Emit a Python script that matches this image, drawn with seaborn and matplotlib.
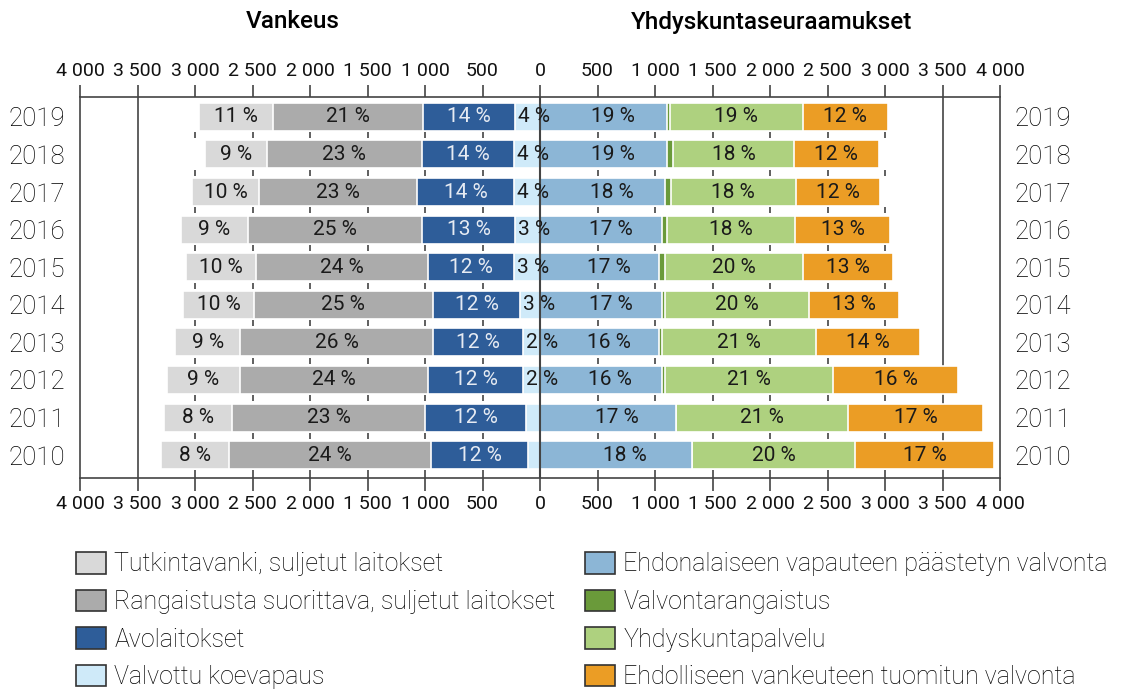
import numpy as np
import matplotlib
matplotlib.use("Agg")
import matplotlib.pyplot as plt
import matplotlib.patches as mpatches
import seaborn as sns

years = ['2019', '2018', '2017', '2016', '2015', '2014', '2013', '2012', '2011', '2010']

# Vankeus (left side), average daily counts
tutkinta = [638, 537, 585, 588, 606, 612, 563, 635, 586, 594]
rangaistus = [1304, 1350, 1377, 1510, 1496, 1559, 1678, 1635, 1684, 1751]
avolaitokset = [803, 803, 843, 809, 753, 757, 785, 829, 873, 849]
koevapaus = [217, 223, 223, 217, 223, 174, 145, 145, 124, 102]

# Yhdyskuntaseuraamukset (right side)
ehdonalainen = [1107, 1107, 1090, 1064, 1037, 1064, 1037, 1064, 1180, 1324]
valvonta = [22, 46, 48, 43, 48, 22, 22, 22, 0, 0]
yhdyskuntapalvelu = [1157, 1058, 1087, 1113, 1204, 1255, 1345, 1464, 1496, 1417]
ehdollinen = [736, 733, 733, 826, 783, 780, 902, 1087, 1179, 1206]

# percent labels as printed in the chart
pct_tutkinta = ['11 %', '9 %', '10 %', '9 %', '10 %', '10 %', '9 %', '9 %', '8 %', '8 %']
pct_rangaistus = ['21 %', '23 %', '23 %', '25 %', '24 %', '25 %', '26 %', '24 %', '23 %', '24 %']
pct_avo = ['14 %', '14 %', '14 %', '13 %', '12 %', '12 %', '12 %', '12 %', '12 %', '12 %']
pct_koe = ['4 %', '4 %', '4 %', '3 %', '3 %', '3 %', '2 %', '2 %', '', '']
pct_ehdonalainen = ['19 %', '19 %', '18 %', '17 %', '17 %', '17 %', '16 %', '16 %', '17 %', '18 %']
pct_yhdyskunta = ['19 %', '18 %', '18 %', '18 %', '20 %', '20 %', '21 %', '21 %', '21 %', '20 %']
pct_ehdollinen = ['12 %', '12 %', '12 %', '13 %', '13 %', '13 %', '14 %', '16 %', '17 %', '17 %']

labels = ['Tutkintavanki, suljetut laitokset', 'Rangaistusta suorittava, suljetut laitokset',
          'Avolaitokset', 'Valvottu koevapaus',
          'Ehdonalaiseen vapauteen päästetyn valvonta', 'Valvontarangaistus',
          'Yhdyskuntapalvelu', 'Ehdolliseen vankeuteen tuomitun valvonta']
colors = ['#d9d9d9', '#ababab', '#2e5d99', '#cfeaf9',
          '#8cb6d6', '#6a9a3a', '#aed17f', '#eb9d25']

sns.set_theme(style="white")
plt.rcParams['font.family'] = ['Roboto', 'DejaVu Sans']
dark = '#444444'
txt = '#000000'
lw_ = 'light'

fig = plt.figure(figsize=(11.22, 6.89), dpi=100)
ax = fig.add_axes([80 / 1122, 1 - 478 / 689, 920 / 1122, 381 / 689])

left = [np.array(tutkinta), np.array(rangaistus), np.array(avolaitokset), np.array(koevapaus)]
right = [np.array(ehdonalainen), np.array(valvonta), np.array(yhdyskuntapalvelu), np.array(ehdollinen)]

ax.axvline(-3500, color=dark, lw=1.2, zorder=0)
ax.axvline(3500, color=dark, lw=1.2, zorder=0)

# left side: draw outermost cumulative first
for i in range(4):
    cum = sum(left[i:])
    sns.barplot(x=-cum, y=years, order=years, orient='h', color=colors[i], saturation=1,
                width=0.745, edgecolor='white', linewidth=1.2, errorbar=None, ax=ax)
# right side
for i in range(3, -1, -1):
    cum = sum(right[:i + 1])
    sns.barplot(x=cum, y=years, order=years, orient='h', color=colors[4 + i], saturation=1,
                width=0.745, edgecolor='white', linewidth=1.2, errorbar=None, ax=ax)

# percent labels
fs = 15
tk = dict(ha='center', va='center', fontsize=fs, color='#1a1a1a')
for r in range(len(years)):
    koe_l = -left[3][r]
    avo_l = koe_l - left[2][r]
    rang_l = avo_l - left[1][r]
    tut_l = rang_l - left[0][r]
    ax.text((avo_l + rang_l) / 2, r, pct_rangaistus[r], **tk)
    ax.text((rang_l + tut_l) / 2, r, pct_tutkinta[r], **tk)
    ax.text((koe_l + avo_l) / 2, r, pct_avo[r], **{**tk, 'color': '#e6ebf3'})
    ax.text(koe_l + 25, r, pct_koe[r], **{**tk, 'ha': 'left'}, zorder=6)
    e1 = right[0][r]
    e2 = e1 + right[1][r]
    e3 = e2 + right[2][r]
    e4 = e3 + right[3][r]
    ax.text(e1 / 2 + 80, r, pct_ehdonalainen[r], **tk)
    ax.text((e2 + e3) / 2, r, pct_yhdyskunta[r], **tk)
    ax.text((e3 + e4) / 2, r, pct_ehdollinen[r], **tk)

ax.axvline(0, color=dark, lw=1.5, zorder=5)

# short dashes between rows
dash_x = [v for v in range(-3000, 3001, 500) if v != 0]
for r in range(len(years) - 1):
    ax.vlines(dash_x, r + 0.5 - 0.09, r + 0.5 + 0.07, color=dark, lw=1.2, zorder=3)
ax.vlines(dash_x, 9.39, 9.61, color=dark, lw=1.2, zorder=3)

ax.set_xlim(-4000, 4000)
ax.set_ylim(9.61, -0.53)
ticks = list(range(-4000, 4001, 500))
ax.set_xticks(ticks)
ax.set_xticklabels([f"{abs(t):,}".replace(',', ' ') for t in ticks])
ax.tick_params(axis='x', top=True, bottom=True, labeltop=True, labelbottom=True,
               direction='out', length=9, width=1.2, color=dark, pad=3,
               labelsize=14, labelcolor='#111111')
ax.tick_params(axis='y', left=False, right=False, labelleft=True, labelright=True,
               length=0, labelsize=18.5, labelcolor=txt, pad=10.5)
for tick in ax.yaxis.get_major_ticks():
    tick.label1.set_fontweight(lw_)
    tick.label2.set_fontweight(lw_)
ax.set_xlabel('')
ax.set_ylabel('')
for sp in ax.spines.values():
    sp.set_visible(True)
    sp.set_color(dark)
    sp.set_linewidth(1.2)

fig.text(293 / 1122, 1 - 22 / 689, 'Vankeus', ha='center', va='center',
         fontsize=17.5, fontweight='medium', color=txt)
fig.text(772 / 1122, 1 - 22 / 689, 'Yhdyskuntaseuraamukset', ha='center', va='center',
         fontsize=17.5, fontweight='medium', color=txt)

handles = [mpatches.Patch(facecolor=c, edgecolor='#333333', linewidth=1.2) for c in colors]
leg_kw = dict(loc='upper left', frameon=False, handlelength=1.2, handleheight=0.95,
              handletextpad=0.33, labelspacing=0.53, borderpad=0, borderaxespad=0,
              prop={'size': 18, 'weight': lw_})
leg1 = fig.legend(handles[:4], labels[:4], bbox_to_anchor=(76 / 1122, 1 - 552 / 689), **leg_kw)
leg2 = fig.legend(handles[4:], labels[4:], bbox_to_anchor=(585 / 1122, 1 - 552 / 689), **leg_kw)
for lg in (leg1, leg2):
    for t in lg.get_texts():
        t.set_color(txt)

fig.savefig('out.png', dpi=100)
